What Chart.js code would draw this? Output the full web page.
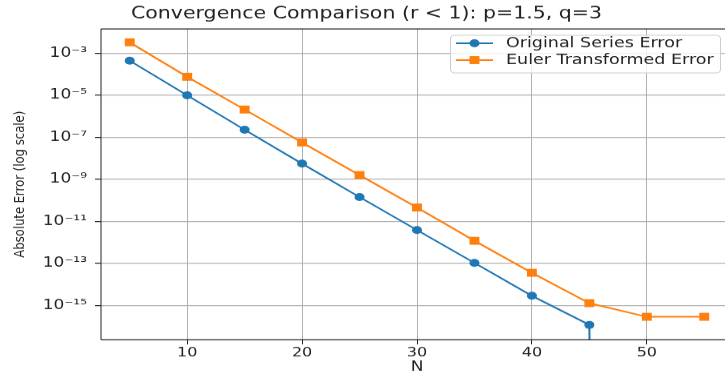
<!DOCTYPE html>
<html>
<head>
<meta charset="utf-8">
<script src="https://cdn.jsdelivr.net/npm/chart.js@4.4.0/dist/chart.umd.min.js"></script>
<style>
  html, body { margin: 0; padding: 0; background: #fff; overflow: hidden; }
  #wrap { width: 725px; height: 374px; overflow: hidden; }
</style>
</head>
<body>
<div id="wrap">
  <!-- drawn taller and squeezed to 374px, the reference picture is squeezed the same way -->
  <canvas id="chart" width="745" height="467" style="width:745px;height:374px;display:block"></canvas>
</div>
<script>
// data
const nValues = [5, 10, 15, 20, 25, 30, 35, 40, 45, 50, 55];
const originalError = [4.4e-4, 1.0e-5, 2.3e-7, 5.6e-9, 1.45e-10, 3.9e-12, 1.07e-13, 2.9e-15, 1.2e-16, 0, 0];
const eulerError = [3.3e-3, 7.6e-5, 2.1e-6, 5.7e-8, 1.6e-9, 4.6e-11, 1.2e-12, 3.6e-14, 1.3e-15, 2.9e-16, 2.9e-16];
const xTicks = [10, 20, 30, 40, 50];
const yTickExponents = [-3, -5, -7, -9, -11, -13, -15];

const seriesNames = ['Original Series Error', 'Euler Transformed Error'];
const blue = '#1f77b4';
const orange = '#ff7f0e';
const textColor = '#222';
const fontFamily = "'DejaVu Sans', Verdana, sans-serif";

// zero errors: log axis clips them to a tiny value like matplotlib does
function toPoints(values) {
  return values.map((v, i) => ({ x: nValues[i], y: v > 0 ? v : 1e-300 }));
}

const sup = { '-': '\u207b', '0': '\u2070', '1': '\u00b9', '2': '\u00b2', '3': '\u00b3',
  '4': '\u2074', '5': '\u2075', '6': '\u2076', '7': '\u2077', '8': '\u2078', '9': '\u2079' };
function powerLabel(v) {
  const e = Math.round(Math.log10(v));
  return '10' + String(e).split('').map(c => sup[c]).join('');
}

// box around the plot, like matplotlib spines
const framePlugin = {
  id: 'frame',
  afterDatasetsDraw(chart) {
    const { ctx, chartArea: a } = chart;
    ctx.save();
    ctx.strokeStyle = '#222';
    ctx.lineWidth = 1.25;
    ctx.beginPath();
    ctx.moveTo(a.left, a.top); ctx.lineTo(a.right, a.top);
    ctx.moveTo(a.left, a.bottom); ctx.lineTo(a.right, a.bottom);
    ctx.stroke();
    ctx.lineWidth = 1;
    ctx.beginPath();
    ctx.moveTo(a.left, a.top); ctx.lineTo(a.left, a.bottom);
    ctx.moveTo(a.right, a.top); ctx.lineTo(a.right, a.bottom);
    ctx.stroke();
    ctx.restore();
  }
};

// matplotlib style legend: frame, line sample with marker, label
const legendPlugin = {
  id: 'mplLegend',
  afterDraw(chart) {
    const ctx = chart.ctx;
    const x = 450.5, y = 44, w = 270, h = 47, r = 4;
    ctx.save();
    ctx.beginPath();
    ctx.moveTo(x + r, y);
    ctx.arcTo(x + w, y, x + w, y + h, r);
    ctx.arcTo(x + w, y + h, x, y + h, r);
    ctx.arcTo(x, y + h, x, y, r);
    ctx.arcTo(x, y, x + w, y, r);
    ctx.closePath();
    ctx.fillStyle = 'rgba(255,255,255,0.8)';
    ctx.fill();
    ctx.strokeStyle = '#cccccc';
    ctx.lineWidth = 1;
    ctx.stroke();

    const rows = [54, 75];
    chart.data.datasets.forEach((ds, i) => {
      const yy = rows[i];
      ctx.strokeStyle = ds.borderColor;
      ctx.lineWidth = 2;
      ctx.beginPath();
      ctx.moveTo(456, yy);
      ctx.lineTo(493, yy);
      ctx.stroke();
      ctx.fillStyle = ds.borderColor;
      ctx.beginPath();
      if (ds.pointStyle === 'rect') {
        const s = ds.pointRadius * Math.SQRT1_2;
        ctx.rect(474.5 - s, yy - s, 2 * s, 2 * s);
      } else {
        ctx.arc(474.5, yy, ds.pointRadius, 0, Math.PI * 2);
      }
      ctx.fill();
      ctx.fillStyle = textColor;
      ctx.font = '17.5px ' + fontFamily;
      ctx.textBaseline = 'middle';
      ctx.textAlign = 'left';
      ctx.fillText(ds.label, 506, yy);
    });
    ctx.restore();
  }
};

const config = {
  type: 'line',
  data: {
    datasets: [
      {
        label: seriesNames[0],
        data: toPoints(originalError),
        borderColor: blue,
        backgroundColor: blue,
        borderWidth: 2,
        pointStyle: 'circle',
        pointRadius: 5,
        pointBorderWidth: 0,
        clip: 0
      },
      {
        label: seriesNames[1],
        data: toPoints(eulerError),
        borderColor: orange,
        backgroundColor: orange,
        borderWidth: 2,
        pointStyle: 'rect',
        pointRadius: 7,
        pointBorderWidth: 0,
        clip: 0
      }
    ]
  },
  options: {
    responsive: false,
    animation: false,
    devicePixelRatio: 1,
    layout: { padding: { left: 0, right: 12, top: 0, bottom: 0 } },
    plugins: {
      legend: { display: false },
      tooltip: { enabled: false },
      title: {
        display: true,
        text: 'Convergence Comparison (r < 1): p=1.5, q=3',
        color: textColor,
        font: { family: fontFamily, size: 20.5, weight: 'normal', lineHeight: 1.2 },
        padding: { top: 5, bottom: 6.4 }
      }
    },
    scales: {
      x: {
        type: 'linear',
        min: 2.5,
        max: 57.5,
        bounds: 'data',
        afterBuildTicks: scale => { scale.ticks = xTicks.map(v => ({ value: v })); },
        afterFit: scale => { scale.height = 43; },
        ticks: {
          color: textColor,
          font: { family: fontFamily, size: 16 },
          padding: 1,
          maxRotation: 0,
          autoSkip: false
        },
        grid: { color: '#b0b0b0', lineWidth: 1, tickLength: 6, tickColor: '#222', tickWidth: 1 },
        border: { display: false },
        title: {
          display: true,
          text: 'N',
          color: textColor,
          font: { family: fontFamily, size: 17, lineHeight: 1 },
          padding: { top: 0, bottom: 0 }
        }
      },
      y: {
        type: 'logarithmic',
        min: 2.4e-17,
        max: 0.01445,
        bounds: 'data',
        afterBuildTicks: scale => { scale.ticks = yTickExponents.map(e => ({ value: Math.pow(10, e) })); },
        afterFit: scale => { scale.width = 101; },
        ticks: {
          color: textColor,
          font: { family: fontFamily, size: 17 },
          padding: 8,
          autoSkip: false,
          callback: value => powerLabel(value)
        },
        grid: { color: '#b0b0b0', lineWidth: 1.25, tickLength: 6, tickColor: '#222', tickWidth: 1.25 },
        border: { display: false },
        title: {
          display: true,
          text: 'Absolute Error (log scale)',
          color: textColor,
          font: { family: fontFamily, size: 14.5, lineHeight: 1.2 },
          padding: { top: 12, bottom: 0 }
        }
      }
    }
  },
  plugins: [framePlugin, legendPlugin]
};

new Chart(document.getElementById('chart'), config);
</script>
</body>
</html>
